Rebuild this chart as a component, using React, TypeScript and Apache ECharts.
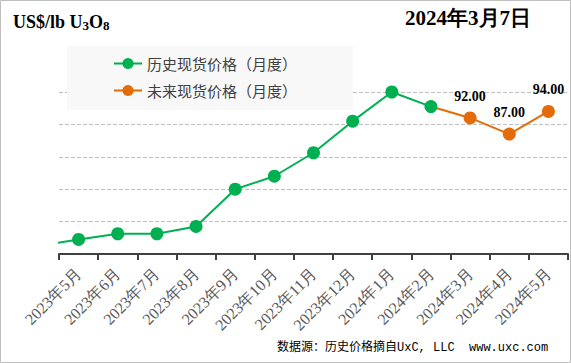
import React, { useEffect, useRef } from "react";
import * as echarts from "echarts";

const categories = [
  "2023年5月", "2023年6月", "2023年7月", "2023年8月", "2023年9月", "2023年10月",
  "2023年11月", "2023年12月", "2024年1月", "2024年2月", "2024年3月", "2024年4月", "2024年5月",
];
// 2023年4月 value, lies just off the left edge of the plot
const leadInValue = 52.5;
const historyValues = [54.5, 56.25, 56.25, 58.5, 70, 74, 81.25, 91, 100, 95.5];
const forecastValues = [92, 87, 94];
const seriesNames = ["历史现货价格（月度）", "未来现货价格（月度）"];
const yMin = 50;
const yMax = 100;
const yStep = 10;
const titleText = "{a|US$/lb U}{s|3}{a|O}{s|8}";
const dateText = "2024年3月7日";
const sourceText = "数据源：历史价格摘自UxC, LLC  www.uxc.com";

const GREEN = "#00B050";
const ORANGE = "#E36C09";
const SERIF = "'Times New Roman', 'Liberation Serif', serif";

export default function App() {
  const ref = useRef<HTMLDivElement>(null);
  useEffect(() => {
    if (!ref.current) return;
    const chart = echarts.init(ref.current, undefined, { renderer: "svg" });
    const histData = [[-1, leadInValue], ...historyValues.map((v, i) => [i, v])];
    const lastHistIdx = historyValues.length - 1;
    const foreData: any[] = [
      { value: [lastHistIdx, historyValues[lastHistIdx]], symbolSize: 0, label: { show: false } },
      ...forecastValues.map((v, i) => [lastHistIdx + 1 + i, v]),
    ];
    chart.setOption({
      animation: false,
      backgroundColor: "#ffffff",
      grid: { left: 59, right: 3, top: 92, bottom: 109, outerBoundsMode: "none" },
      legend: {
        orient: "vertical",
        left: 67,
        top: 46,
        padding: [10, 56, 12, 46],
        backgroundColor: "#f8f8f8",
        itemWidth: 28,
        itemHeight: 14,
        itemGap: 12,
        data: seriesNames,
        textStyle: { fontSize: 15, color: "#404040", fontFamily: "'Noto Sans CJK SC', sans-serif", lineHeight: 15 },
      },
      xAxis: [
        {
          type: "category",
          data: categories,
          boundaryGap: true,
          axisLine: { lineStyle: { color: "#404040", width: 2 } },
          axisTick: { show: true, length: 6, lineStyle: { color: "#404040", width: 2 } },
          axisLabel: {
            rotate: 45,
            interval: 0,
            margin: 17,
            fontSize: 16,
            color: "#595959",
            fontFamily: SERIF,
          },
          splitLine: { show: false },
        },
        {
          type: "value",
          min: -0.5,
          max: 12.5,
          show: false,
          splitLine: { show: false },
        },
      ],
      yAxis: {
        type: "value",
        min: yMin,
        max: yMax,
        interval: yStep,
        axisLabel: { show: false },
        axisLine: { show: false },
        axisTick: { show: false },
        splitLine: { lineStyle: { color: "#bfbfbf", type: "dashed", width: 1 } },
      },
      series: [
        {
          name: seriesNames[0],
          type: "line",
          xAxisIndex: 1,
          data: histData,
          clip: true,
          z: 3,
          symbol: "circle",
          symbolSize: 13,
          itemStyle: { color: GREEN },
          lineStyle: { color: GREEN, width: 2 },
        },
        {
          name: seriesNames[1],
          type: "line",
          xAxisIndex: 1,
          data: foreData,
          clip: true,
          z: 2,
          symbol: "circle",
          symbolSize: 13,
          itemStyle: { color: ORANGE },
          lineStyle: { color: ORANGE, width: 2 },
          label: {
            show: true,
            position: "top",
            distance: 8,
            fontSize: 14,
            fontWeight: "bold",
            color: "#000",
            fontFamily: SERIF,
            formatter: (p: any) => Number(p.value[1]).toFixed(2),
          },
        },
      ],
      graphic: [
        {
          type: "rect",
          shape: { x: 0.5, y: 0.5, width: 570, height: 362 },
          style: { fill: "none", stroke: "#bfbfbf", lineWidth: 1 },
          silent: true,
          z: 100,
        },
        {
          type: "text",
          x: 13,
          y: 12,
          style: {
            text: titleText,
            fill: "#000",
            rich: {
              a: { fontSize: 18, fontWeight: "bold", fontFamily: SERIF, lineHeight: 20, fill: "#000" },
              s: { fontSize: 13, fontWeight: "bold", fontFamily: SERIF, lineHeight: 4, verticalAlign: "bottom", fill: "#000" },
            },
          },
        },
        {
          type: "text",
          x: 405,
          y: 7,
          style: {
            text: dateText,
            fontSize: 21,
            fontWeight: "bold",
            fontFamily: SERIF,
            fill: "#000",
          },
        },
        {
          type: "text",
          x: 277,
          y: 348,
          style: {
            text: sourceText,
            fontSize: 12,
            fontFamily: "'Liberation Mono', 'Noto Sans CJK SC', monospace",
            fill: "#000",
            verticalAlign: "middle",
          },
        },
      ],
    });
    return () => chart.dispose();
  }, []);
  return (
    <div
      ref={ref}
      style={{ position: "absolute", left: 0, top: 0, width: 571, height: 363 }}
    />
  );
}
